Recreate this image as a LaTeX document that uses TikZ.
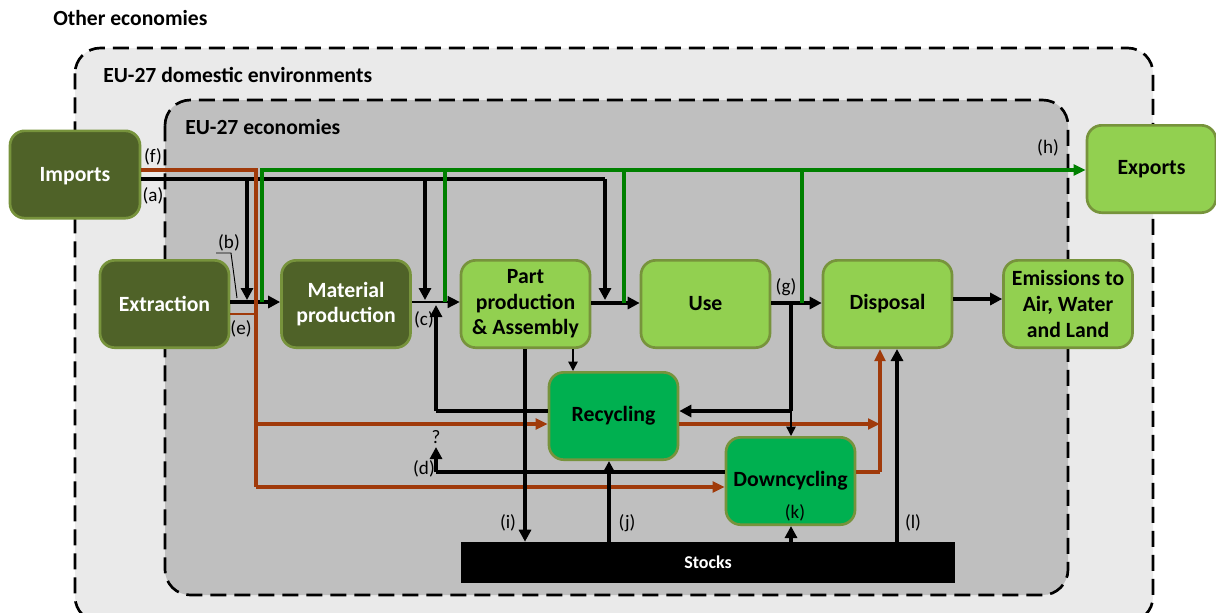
\documentclass[tikz,border=0pt]{standalone}
\usepackage{fontspec}
\setmainfont{Carlito}
\usetikzlibrary{arrows.meta}
\definecolor{dkg}{HTML}{4F6228}
\definecolor{bord}{HTML}{77933C}
\definecolor{ltg}{HTML}{92D050}
\definecolor{mdg}{HTML}{00B050}
\definecolor{rd}{HTML}{A03A0A}
\definecolor{gl}{HTML}{008000}
\definecolor{outerbg}{HTML}{EAEAEA}
\definecolor{innerbg}{HTML}{BFBFBF}
\tikzset{
  box/.style={rounded corners=11pt, draw=bord, line width=2pt, minimum width=96.75pt, minimum height=65.5pt,
    align=center, inner sep=1pt, font=\bfseries\fontsize{16.3}{19.2}\selectfont},
  darkbox/.style={box, fill=dkg, text=white},
  lightbox/.style={box, fill=ltg, text=black},
  recbox/.style={box, fill=mdg, text=black},
  container/.style={rounded corners=19pt, draw=black, line width=2pt, dash pattern=on 12pt off 6pt},
  hdr/.style={anchor=west, font=\bfseries\fontsize{16.2}{19}\selectfont, inner sep=0pt},
  lbl/.style={font=\fontsize{14.3}{16}\selectfont, inner sep=0pt},
  tip/.style={-{Triangle[length=9pt,width=9pt]}},
  thk/.style={line width=3pt, black},
  thn/.style={line width=1.1pt, black},
  red/.style={line width=2.3pt, rd},
  grn/.style={line width=3pt, gl},
  redtip/.style={-{Triangle[length=9pt,width=8pt]}},
  smalltip/.style={-{Triangle[length=7pt,width=7pt]}},
}
\begin{document}
\begin{tikzpicture}[x=0.75pt,y=-0.75pt]
\useasboundingbox (0,0) rectangle (1216,612);
% containers
\draw[container, fill=outerbg] (75,48) rectangle (1153,622);
\draw[container, fill=innerbg] (165,100) rectangle (1068,595);
\node[hdr] (hOther) at (53,18) {Other economies};
\node[hdr] (hDom) at (103,75) {EU-27 domestic environments};
\node[hdr] (hEco) at (185,127) {EU-27 economies};

% nodes
\node[darkbox, minimum width=97.5pt, text depth=0pt] (Imports) at (75,174.5) {Imports};
\node[darkbox] (Extraction) at (164.5,304) {Extraction};
\node[darkbox] (Material) at (346,304) {Material\\production};
\node[lightbox] (Part) at (525.5,304) {Part\\production\\\&~Assembly};
\node[lightbox] (Use) at (705.5,304) {Use};
\node[lightbox] (Disposal) at (887.5,304) {Disposal};
\node[lightbox] (Emissions) at (1068,304) {Emissions to\\Air, Water\\and Land};
\node[lightbox] (Exports) at (1151.5,169) {Exports};
\node[recbox] (Recycling) at (613.5,416) {Recycling};
\node[recbox] (Downcycling) at (790.5,481) {Downcycling};
\node[fill=black, minimum width=370.5pt, minimum height=30.75pt, inner sep=0pt, text=white,
  font=\bfseries\fontsize{13.5}{15}\selectfont] (Stocks) at (708,562.5) {Stocks};

% junction coordinates
\coordinate (aS) at (141,179);
\coordinate (aC) at (605,179);
\coordinate (aB1) at (247,179);
\coordinate (aB2) at (425,179);
\coordinate (fS) at (141,170);
\coordinate (fC) at (256,170);
\coordinate (fM) at (256,424);
\coordinate (fB) at (256,487);
\coordinate (eE) at (256,314);
\coordinate (hS) at (262,302);
\coordinate (hC) at (262,170);
\coordinate (h1) at (445,170);
\coordinate (h2) at (624,170);
\coordinate (h3) at (802,170);
\coordinate (cC) at (436,411);
\coordinate (gS) at (791,303);
\coordinate (gC) at (791,411);
\coordinate (dC) at (436,472);
\coordinate (dE) at (436,447);
\coordinate (rC) at (880,472);
\coordinate (rM) at (880,424);

% black import flows (a)
\draw[thk] (aS) -- (aC);
\draw[thk, tip] (aC) -- (605,300);
\draw[thk, tip] (aB1) -- (247,300);
\draw[thk, tip] (aB2) -- (425,300);

% main chain
\draw[thk, tip] (Extraction.east |- 0,302) -- (Material.west |- 0,302);
\draw[thn, tip] (Material.east |- 0,302) -- (Part.west |- 0,302);
\draw[thk, tip] (Part.east |- 0,303) -- (Use.west |- 0,303);
\draw[thk, tip] (Use.east |- 0,303) -- (Disposal.west |- 0,303);
\draw[thk, tip] (Disposal.east |- 0,299) -- (Emissions.west |- 0,299);

% red flows (f), (e)
\draw[red] (fS) -- (fC) -- (fB);
\draw[red, redtip] (fB) -- (Downcycling.west |- fB);
\draw[red, redtip] (fM) -- (Recycling.west |- fM);
\draw[line width=1.3pt, rd] (Extraction.east |- eE) -- (eE);
\draw[red, redtip] (Recycling.east |- rM) -- (rM);
\draw[red] (Downcycling.east |- rC) -- (rC);
\draw[red, redtip] (rC) -- (rC |- Disposal.south);

% green exports (h)
\draw[grn] (hS) -- (hC) -- (h3);
\draw[grn, {Triangle[length=9pt,width=8pt]}-] (Exports.west |- hC) -- (h3);
\draw[grn] (h1) -- (445,302);
\draw[grn] (h2) -- (624,303);
\draw[grn] (h3) -- (802,303);

% recycling loops
\draw[thk] (Recycling.west |- cC) -- (cC);
\draw[thk, tip] (cC) -- (436,305);
\draw[thn, smalltip] (573,0 |- Part.south) -- (573,0 |- Recycling.north);
\draw[thk, tip] (525,0 |- Part.south) -- (525,0 |- Stocks.north);
\draw[thk, tip] (609,0 |- Stocks.north) -- (609,0 |- Recycling.south);
\draw[thk] (gS) -- (gC);
\draw[thk, tip] (gC) -- (Recycling.east |- gC);
\draw[thn, smalltip] (gC) -- (gC |- Downcycling.north);
\draw[thk] (Downcycling.west |- dC) -- (dC);
\draw[thk, tip] (dC) -- (dE);
\draw[thk, tip] (791,0 |- Stocks.north) -- (791,0 |- Downcycling.south);
\draw[thk, tip] (897,0 |- Stocks.north) -- (897,0 |- Disposal.south);

% leader for (b)
\coordinate (bL) at (216,253);
\coordinate (bK) at (231,253);
\coordinate (bT) at (237,298);
\draw[line width=0.7pt] (bL) -- (bK) -- (bT);

% labels
\node[lbl] (lf) at (153,157) {(f)};
\node[lbl] (la) at (153,196) {(a)};
\node[lbl] (lb) at (229,243) {(b)};
\node[lbl] (le) at (241,329) {(e)};
\node[lbl] (lc) at (424,320) {(c)};
\node[lbl] (lg) at (786,287) {(g)};
\node[lbl] (lh) at (1048,148) {(h)};
\node[lbl] (li) at (508,523) {(i)};
\node[lbl] (lj) at (627,523) {(j)};
\node[lbl] (lk) at (795,513) {(k)};
\node[lbl] (ll) at (913,523) {(l)};
\node[lbl] (ld) at (424,469) {(d)};
\node[lbl] (lq) at (436,437) {?};
\end{tikzpicture}
\end{document}
